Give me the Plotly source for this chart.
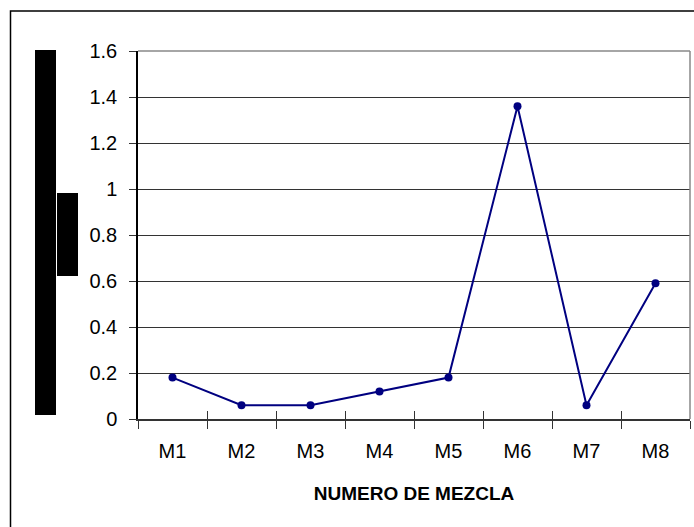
import plotly.graph_objects as go

categories = ["M1", "M2", "M3", "M4", "M5", "M6", "M7", "M8"]
values = [0.18, 0.06, 0.06, 0.12, 0.18, 1.36, 0.06, 0.59]
y_ticks = [0, 0.2, 0.4, 0.6, 0.8, 1, 1.2, 1.4, 1.6]
y_tick_labels = ["0", "0.2", "0.4", "0.6", "0.8", "1", "1.2", "1.4", "1.6"]
x_title = "NUMERO DE MEZCLA"

W, H = 694, 527
L, R, T, B = 138, 4, 51, 108
pw, ph = W - L - R, H - T - B

def px(x):
    return (x - L) / pw

def py(y):
    return (H - B - y) / ph

fig = go.Figure()
fig.add_trace(go.Scatter(
    x=categories, y=values, mode="lines+markers",
    line=dict(color="#000080", width=2),
    marker=dict(color="#000080", size=8),
    showlegend=False, hoverinfo="skip",
))
# invisible trace for overlay axis providing inside tick marks
fig.add_trace(go.Scatter(
    x=categories, y=values, xaxis="x2", mode="markers",
    marker=dict(opacity=0), showlegend=False, hoverinfo="skip",
))

font = "Liberation Sans, Arial, sans-serif"

fig.update_layout(
    width=W, height=H,
    margin=dict(l=L, r=R, t=T, b=B),
    paper_bgcolor="white", plot_bgcolor="white",
    font=dict(family=font, color="black", size=20),
    xaxis=dict(
        type="category", range=[-0.5, 7.5],
        showgrid=False, showline=True, linecolor="#333", linewidth=1.5,
        ticks="outside", ticklen=8, tickcolor="#333", tickwidth=1.2,
        tickson="boundaries",
        tickfont=dict(size=20, family=font),
        ticklabelstandoff=13,
        title=dict(text="<b>" + x_title + "</b>", font=dict(size=19, family=font), standoff=26),
        zeroline=False,
    ),
    xaxis2=dict(
        type="category", range=[-0.5, 7.5], overlaying="x", matches="x",
        anchor="y", side="bottom",
        showgrid=False, showline=False, showticklabels=False,
        ticks="inside", ticklen=8, tickcolor="#333", tickwidth=1.2,
        tickson="boundaries",
    ),
    yaxis=dict(
        range=[0, 1.6], tickvals=y_ticks, ticktext=y_tick_labels,
        showgrid=True, gridcolor="#333", gridwidth=1,
        showline=True, linecolor="black", linewidth=1.5,
        ticks="outside", ticklen=7, tickcolor="#333",
        tickfont=dict(size=20, family=font),
        ticklabelstandoff=8,
        zeroline=False,
    ),
    shapes=[
        dict(type="line", xref="paper", yref="paper", x0=0, x1=1, y0=1, y1=1,
             line=dict(color="#888", width=1.5)),
        dict(type="line", xref="paper", yref="paper", x0=1, x1=1, y0=0, y1=1,
             line=dict(color="#888", width=1.5)),
        dict(type="rect", xref="paper", yref="paper",
             x0=px(10.5), x1=px(705), y0=py(540), y1=py(11),
             line=dict(color="black", width=1.5), fillcolor="rgba(0,0,0,0)"),
        dict(type="rect", xref="paper", yref="paper",
             x0=px(35), x1=px(56), y0=py(415), y1=py(50),
             line=dict(width=0), fillcolor="black"),
        dict(type="rect", xref="paper", yref="paper",
             x0=px(57), x1=px(78), y0=py(276), y1=py(193),
             line=dict(width=0), fillcolor="black"),
    ],
)

fig.write_html("out.html", config={"displayModeBar": False},
               post_script="document.body.style.margin='0';document.body.style.overflow='hidden';")
